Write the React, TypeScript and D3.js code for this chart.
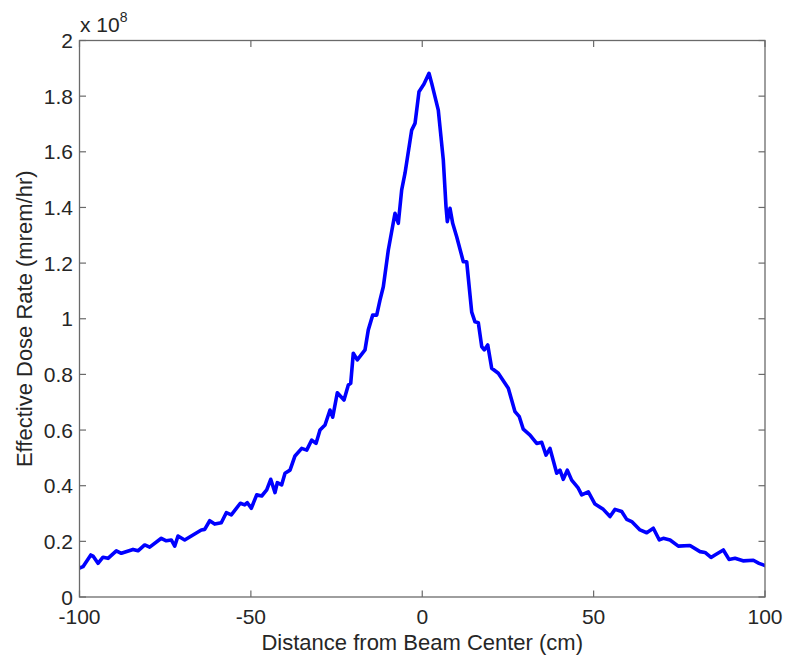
import React from "react";
import * as d3 from "d3";

// Distance from beam center (cm)
const distance: number[] = [
  -100, -98.98, -96.7, -96.06, -94.6, -93.14, -91.68, -89.26, -87.8, -84.39,
  -82.93, -80.98, -79.52, -76.13, -74.68, -73.22, -72.22, -71.26, -69.31, -66.89,
  -64.46, -63.47, -62.01, -60.55, -58.63, -57.17, -55.71, -53.08, -51.8, -51.04,
  -49.88, -48.3, -46.84, -45.38, -44.21, -42.96, -42.29, -41.01, -40.04, -38.58,
  -37.13, -35.17, -33.71, -32.25, -31.0, -29.83, -28.37, -26.91, -26.13, -24.78,
  -22.83, -21.57, -20.87, -20.12, -18.95, -16.7, -15.74, -14.46, -13.29, -12.33,
  -11.36, -9.9, -7.95, -6.99, -6.0, -5.03, -3.08, -2.11, -0.95, 0.51,
  1.97, 2.76, 4.68, 6.14, 6.93, 7.31, 8.1, 8.88, 10.05, 11.98,
  12.97, 14.43, 15.39, 16.36, 17.35, 18.1, 19.1, 20.26, 22.19, 25.11,
  27.06, 28.32, 29.48, 31.44, 33.39, 34.85, 36.11, 37.27, 39.23, 40.19,
  41.15, 42.32, 43.6, 45.53, 46.52, 48.45, 50.4, 52.82, 54.78, 56.24,
  58.19, 59.65, 61.11, 63.53, 65.49, 67.42, 69.17, 70.33, 72.29, 74.71,
  78.1, 81.04, 82.5, 84.25, 85.4, 87.84, 89.5, 91.25, 93.59, 96.59,
  98.25, 100,
];

// Effective dose rate (x 10^8 mrem/hr)
const doseRate: number[] = [
  0.104, 0.109, 0.151, 0.147, 0.121, 0.143, 0.139, 0.166, 0.157, 0.171,
  0.166, 0.187, 0.179, 0.211, 0.202, 0.205, 0.183, 0.219, 0.205, 0.223,
  0.241, 0.243, 0.274, 0.262, 0.267, 0.303, 0.295, 0.337, 0.331, 0.339,
  0.319, 0.367, 0.363, 0.385, 0.423, 0.375, 0.411, 0.403, 0.445, 0.456,
  0.507, 0.534, 0.528, 0.564, 0.552, 0.6, 0.618, 0.672, 0.646, 0.734,
  0.708, 0.762, 0.768, 0.876, 0.852, 0.888, 0.96, 1.013, 1.013, 1.067,
  1.115, 1.247, 1.379, 1.343, 1.463, 1.523, 1.678, 1.702, 1.816, 1.844,
  1.882, 1.846, 1.75, 1.571, 1.403, 1.349, 1.397, 1.343, 1.295, 1.205,
  1.205, 1.024, 0.989, 0.986, 0.9, 0.888, 0.906, 0.822, 0.804, 0.75,
  0.666, 0.648, 0.603, 0.582, 0.552, 0.556, 0.51, 0.534, 0.445, 0.456,
  0.423, 0.456, 0.42, 0.391, 0.367, 0.378, 0.334, 0.315, 0.289, 0.315,
  0.307, 0.279, 0.271, 0.241, 0.231, 0.247, 0.205, 0.211, 0.205, 0.183,
  0.185, 0.163, 0.16, 0.142, 0.151, 0.169, 0.135, 0.139, 0.13, 0.132,
  0.121, 0.113,
];

const xTicks: number[] = [-100, -50, 0, 50, 100];
const yTicks: number[] = [0, 0.2, 0.4, 0.6, 0.8, 1, 1.2, 1.4, 1.6, 1.8, 2];

const xLabel = "Distance from Beam Center (cm)";
const yLabel = "Effective Dose Rate (mrem/hr)";

export default function App() {
  const W = 785;
  const H = 657;
  const left = 79.5;
  const right = 765;
  const top = 40.5;
  const bottom = 597;

  const x = d3.scaleLinear().domain([-100, 100]).range([left, right]);
  const y = d3.scaleLinear().domain([0, 2]).range([bottom, top]);

  const pts: [number, number][] = distance.map((d, i) => [d, doseRate[i]]);
  const line = d3
    .line<[number, number]>()
    .x((d) => x(d[0]))
    .y((d) => y(d[1]));

  const axisColor = "#6a6a6a";
  const textColor = "#262626";
  const font = "Liberation Sans, Arial, sans-serif";
  const tickLen = 6.5;
  const fmt = (v: number) => String(Math.round(v * 10) / 10);

  return (
    <svg
      width={W}
      height={H}
      style={{ position: "absolute", left: 0, top: 0, background: "#fff" }}
      fontFamily={font}
    >
      <rect x={0} y={0} width={W} height={H} fill="#fff" />
      <clipPath id="plotclip">
        <rect x={left} y={top - 4} width={right - left} height={bottom - top + 4} />
      </clipPath>
      <path
        d={line(pts) || ""}
        fill="none"
        stroke="#0000ff"
        strokeWidth={3.6}
        strokeLinejoin="round"
        strokeLinecap="round"
        clipPath="url(#plotclip)"
      />
      {/* box */}
      <rect
        x={left}
        y={top}
        width={right - left}
        height={bottom - top}
        fill="none"
        stroke={axisColor}
        strokeWidth={1.3}
      />
      {/* x ticks */}
      {xTicks.map((t) => (
        <g key={"x" + t}>
          <line x1={x(t)} x2={x(t)} y1={bottom} y2={bottom - tickLen} stroke={axisColor} strokeWidth={1.2} />
          <line x1={x(t)} x2={x(t)} y1={top} y2={top + tickLen} stroke={axisColor} strokeWidth={1.2} />
          <text x={x(t)} y={624} textAnchor="middle" fontSize={21} fill={textColor}>
            {fmt(t)}
          </text>
        </g>
      ))}
      {/* y ticks */}
      {yTicks.map((t) => (
        <g key={"y" + t}>
          <line x1={left} x2={left + tickLen} y1={y(t)} y2={y(t)} stroke={axisColor} strokeWidth={1.2} />
          <line x1={right} x2={right - tickLen} y1={y(t)} y2={y(t)} stroke={axisColor} strokeWidth={1.2} />
          <text x={73} y={y(t) + 7.5} textAnchor="end" fontSize={21} fill={textColor}>
            {fmt(t)}
          </text>
        </g>
      ))}
      {/* exponent */}
      <text x={80} y={31.5} fontSize={21} fill={textColor}>
        x 10
        <tspan dy={-10} fontSize={14}>8</tspan>
      </text>
      {/* labels */}
      <text x={(left + right) / 2} y={650} textAnchor="middle" fontSize={22} fill={textColor}>
        {xLabel}
      </text>
      <text
        transform={`translate(32, ${(top + bottom) / 2}) rotate(-90)`}
        textAnchor="middle"
        fontSize={22}
        fill={textColor}
      >
        {yLabel}
      </text>
    </svg>
  );
}
